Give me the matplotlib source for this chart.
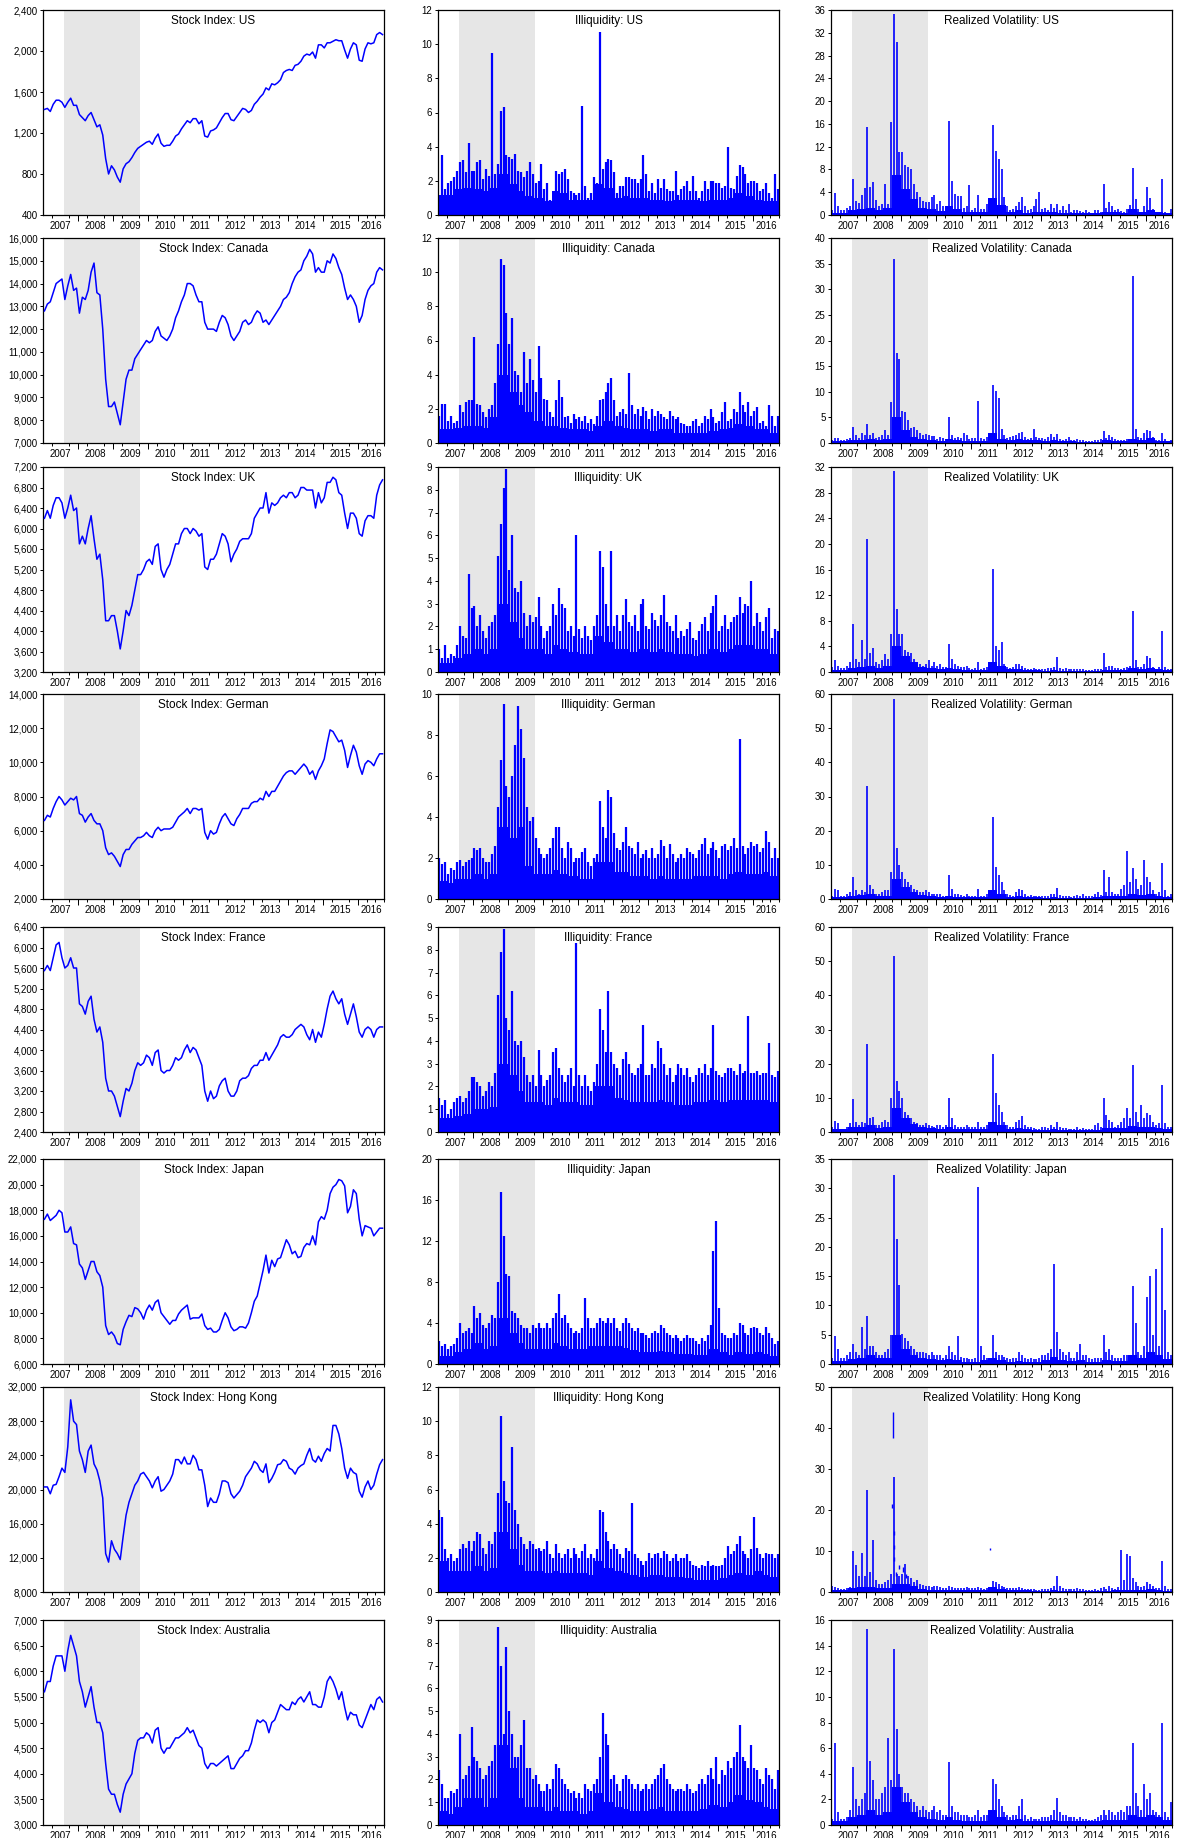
import numpy as np
import matplotlib
matplotlib.use('Agg')
import matplotlib.pyplot as plt
from matplotlib.ticker import FixedLocator, FuncFormatter

plt.rcParams['font.family'] = ['Liberation Sans', 'DejaVu Sans']

# %% data: monthly values Jan 2007 - Sep 2016
year_labels = [str(y) for y in range(2007, 2017)]
shade_start, shade_end = 2007.6, 2009.78

stock_us = [1430, 1440, 1410, 1480, 1520, 1520, 1500, 1450, 1500, 1540, 1470, 1470,
            1380, 1350, 1320, 1370, 1400, 1330, 1260, 1280, 1180, 950, 800, 880,
            840, 770, 720, 850, 900, 920, 960, 1010, 1050, 1070, 1090, 1110,
            1120, 1090, 1150, 1190, 1100, 1070, 1080, 1080, 1120, 1170, 1190, 1240,
            1280, 1320, 1300, 1340, 1340, 1290, 1320, 1170, 1160, 1220, 1230, 1250,
            1300, 1350, 1390, 1390, 1330, 1320, 1360, 1400, 1440, 1430, 1400, 1420,
            1480, 1510, 1550, 1580, 1640, 1620, 1680, 1670, 1690, 1720, 1790, 1810,
            1820, 1810, 1860, 1870, 1900, 1950, 1970, 1960, 1990, 1930, 2060, 2060,
            2030, 2080, 2080, 2095, 2110, 2100, 2100, 2010, 1930, 2020, 2080, 2060,
            1910, 1900, 2020, 2080, 2070, 2080, 2160, 2180, 2160]
stock_ca = [12800, 13100, 13200, 13600, 14000, 14100, 14200, 13300, 13900, 14400, 13700, 13800,
            12700, 13400, 13300, 13700, 14500, 14900, 13600, 13500, 12000, 9800, 8600, 8600,
            8800, 8300, 7800, 8800, 9800, 10200, 10200, 10700, 10900, 11100, 11300, 11500,
            11400, 11500, 11900, 12100, 11700, 11600, 11500, 11700, 12000, 12500, 12800, 13200,
            13500, 14000, 14000, 13900, 13500, 13200, 13200, 12300, 12000, 12000, 12000, 11900,
            12300, 12600, 12500, 12200, 11700, 11500, 11700, 11900, 12300, 12400, 12200, 12300,
            12600, 12800, 12700, 12300, 12400, 12200, 12400, 12600, 12800, 13000, 13300, 13400,
            13600, 14000, 14300, 14500, 14600, 15000, 15200, 15500, 15300, 14500, 14700, 14500,
            14500, 15000, 14900, 15300, 15100, 14700, 14400, 13800, 13300, 13500, 13300, 13000,
            12300, 12600, 13300, 13700, 13900, 14000, 14500, 14700, 14600]
stock_uk = [6200, 6350, 6200, 6450, 6600, 6600, 6500, 6200, 6400, 6650, 6350, 6400,
            5700, 5850, 5700, 6000, 6250, 5800, 5400, 5500, 5000, 4200, 4200, 4300,
            4300, 4000, 3650, 4000, 4400, 4300, 4500, 4800, 5100, 5100, 5200, 5350,
            5400, 5300, 5650, 5700, 5200, 5050, 5200, 5300, 5500, 5700, 5700, 5900,
            6000, 6000, 5900, 6000, 5950, 5850, 5900, 5250, 5200, 5400, 5400, 5500,
            5700, 5900, 5850, 5700, 5350, 5500, 5600, 5750, 5800, 5800, 5800, 5900,
            6200, 6300, 6400, 6400, 6700, 6300, 6500, 6450, 6500, 6600, 6650, 6600,
            6700, 6700, 6600, 6650, 6800, 6800, 6750, 6750, 6750, 6400, 6700, 6500,
            6600, 6900, 6900, 7000, 6950, 6700, 6650, 6300, 6000, 6300, 6300, 6200,
            5900, 5850, 6150, 6250, 6250, 6200, 6650, 6850, 6950]
stock_de = [6600, 6900, 6800, 7300, 7700, 8000, 7800, 7500, 7700, 7900, 7800, 8000,
            7000, 6900, 6500, 6800, 7000, 6600, 6400, 6400, 6000, 5000, 4600, 4700,
            4500, 4200, 3900, 4600, 4900, 4900, 5200, 5400, 5600, 5600, 5700, 5900,
            5700, 5600, 6000, 6200, 6000, 6100, 6100, 6100, 6200, 6500, 6800, 6950,
            7100, 7300, 7000, 7300, 7300, 7200, 7300, 5900, 5500, 6000, 5800, 5900,
            6400, 6800, 7000, 6700, 6400, 6300, 6700, 6950, 7300, 7300, 7300, 7600,
            7700, 7700, 7900, 7800, 8300, 8000, 8300, 8300, 8600, 8900, 9200, 9400,
            9500, 9500, 9300, 9500, 9700, 9900, 9700, 9300, 9500, 9000, 9500, 9800,
            10200, 11100, 11900, 11800, 11500, 11200, 11300, 10700, 9700, 10400, 11000, 10600,
            9800, 9300, 9900, 10100, 10000, 9800, 10200, 10500, 10500]
stock_fr = [5550, 5650, 5550, 5800, 6050, 6100, 5800, 5600, 5650, 5800, 5600, 5600,
            4900, 4850, 4700, 4950, 5050, 4600, 4350, 4450, 4150, 3450, 3200, 3200,
            3100, 2900, 2700, 3000, 3250, 3200, 3350, 3600, 3750, 3700, 3750, 3900,
            3850, 3700, 3950, 4000, 3600, 3550, 3600, 3600, 3700, 3850, 3800, 3850,
            4000, 4100, 3950, 4050, 4000, 3850, 3700, 3200, 3000, 3200, 3050, 3100,
            3300, 3400, 3450, 3200, 3100, 3100, 3200, 3400, 3450, 3450, 3500, 3640,
            3700, 3700, 3800, 3800, 3950, 3800, 3900, 4000, 4100, 4250, 4300, 4250,
            4250, 4300, 4400, 4450, 4500, 4450, 4300, 4200, 4400, 4150, 4350, 4250,
            4500, 4800, 5050, 5150, 5000, 4900, 5000, 4700, 4500, 4700, 4900, 4650,
            4350, 4250, 4400, 4450, 4400, 4250, 4400, 4450, 4450]
stock_jp = [17300, 17700, 17200, 17400, 17600, 18000, 17800, 16300, 16300, 16700, 15400, 15300,
            13800, 13500, 12600, 13300, 14000, 14000, 13200, 12900, 12000, 9000, 8300, 8500,
            8200, 7600, 7500, 8700, 9300, 9800, 9700, 10400, 10300, 10000, 9500, 10200,
            10600, 10200, 10800, 11000, 10000, 9700, 9400, 9100, 9400, 9400, 9900, 10200,
            10400, 10600, 9500, 9600, 9600, 9600, 9900, 9000, 8700, 8800, 8500, 8500,
            8700, 9400, 10000, 9600, 8900, 8600, 8700, 8900, 8900, 8800, 9200, 10000,
            10900, 11300, 12300, 13300, 14500, 13100, 14100, 13600, 14200, 14300, 15000, 15700,
            15300, 14600, 14800, 14300, 14400, 15100, 15400, 15300, 16000, 15300, 17100, 17500,
            17300, 18000, 19300, 19800, 20000, 20400, 20300, 19900, 17800, 18300, 19600, 19300,
            17300, 16000, 16800, 16700, 16600, 16000, 16300, 16600, 16600]
stock_hk = [20300, 20300, 19500, 20500, 20600, 21500, 22500, 22000, 25000, 30500, 28000, 27600,
            24500, 23500, 22000, 24500, 25200, 23000, 22300, 21000, 19000, 12500, 11500, 14000,
            13000, 12500, 11800, 14500, 17000, 18500, 19500, 20500, 21000, 21800, 22000, 21500,
            21000, 20200, 21000, 21500, 19800, 20000, 20500, 21000, 21800, 23500, 23500, 23000,
            23800, 23000, 23000, 24000, 23500, 22300, 22300, 20500, 18000, 19000, 18500, 18500,
            19500, 21000, 21000, 20800, 19500, 19000, 19400, 19800, 20500, 21500, 22000, 22500,
            23300, 23000, 22300, 22000, 23000, 20800, 21300, 22000, 22900, 23000, 23500, 23300,
            22500, 22300, 21800, 22500, 22800, 23000, 24000, 24800, 23500, 23200, 23900, 23300,
            24200, 24800, 24500, 27500, 27500, 26500, 24800, 22500, 21300, 22500, 22000, 21800,
            19800, 19100, 20300, 21000, 20000, 20500, 21800, 22900, 23500]
stock_au = [5600, 5800, 5800, 6100, 6300, 6300, 6300, 6000, 6400, 6700, 6500, 6300,
            5800, 5600, 5300, 5500, 5700, 5300, 5000, 5000, 4800, 4200, 3700, 3600,
            3600, 3400, 3250, 3600, 3800, 3900, 4000, 4400, 4650, 4700, 4700, 4800,
            4750, 4600, 4850, 4900, 4500, 4400, 4500, 4500, 4600, 4700, 4700, 4750,
            4800, 4900, 4800, 4850, 4700, 4550, 4500, 4200, 4100, 4200, 4200, 4150,
            4200, 4250, 4300, 4350, 4100, 4100, 4200, 4300, 4350, 4450, 4450, 4600,
            4850, 5050, 5000, 5050, 5000, 4800, 5000, 5050, 5200, 5350, 5300, 5250,
            5250, 5400, 5350, 5450, 5500, 5400, 5500, 5600, 5350, 5350, 5300, 5300,
            5500, 5800, 5900, 5800, 5650, 5450, 5600, 5300, 5050, 5200, 5150, 5150,
            4950, 4900, 5050, 5200, 5350, 5250, 5450, 5500, 5400]

# illiquidity: monthly highest spike and quarterly level of the dense band
illiq_us_top = [1.0, 3.5, 1.5, 1.9, 2.0, 2.2, 2.6, 3.1, 3.2, 2.5, 4.2, 2.6,
                2.6, 3.1, 3.2, 2.1, 2.7, 2.3, 9.5, 2.4, 3.0, 6.1, 6.3, 3.5,
                3.4, 3.3, 3.6, 2.6, 2.5, 2.2, 2.6, 3.1, 2.4, 1.9, 2.0, 3.0,
                1.5, 1.9, 0.9, 0.8, 2.6, 2.4, 2.5, 2.7, 2.1, 1.4, 1.3, 1.2,
                1.3, 6.4, 1.7, 1.0, 1.3, 2.2, 1.9, 10.7, 2.7, 3.1, 3.3, 3.2,
                2.5, 1.3, 1.7, 1.7, 2.2, 2.2, 2.1, 2.1, 1.9, 2.1, 3.5, 2.4,
                1.4, 1.9, 1.3, 2.1, 1.6, 2.1, 1.5, 1.4, 1.4, 2.6, 1.2, 1.5,
                1.7, 2.0, 1.4, 2.3, 1.4, 1.0, 1.4, 2.0, 1.5, 2.0, 2.0, 1.9,
                1.9, 1.6, 1.7, 4.0, 1.6, 1.5, 2.3, 2.9, 2.8, 2.4, 1.9, 2.0,
                2.0, 1.9, 1.4, 1.5, 1.9, 1.3, 1.0, 2.4, 1.5]
illiq_us_body = [1.2, 1.2, 1.5, 1.6, 1.5, 1.4, 1.6, 2.4, 1.8, 1.4, 1.1, 1.0,
                 0.8, 1.4, 1.3, 0.9, 0.9, 0.9, 1.8, 1.6, 1.0, 1.1, 1.0, 1.0,
                 0.9, 0.9, 0.8, 0.9, 0.9, 0.9, 0.8, 0.9, 0.9, 1.0, 1.3, 1.1,
                 0.9, 0.8, 0.8]
illiq_ca_top = [1.6, 2.3, 2.3, 1.3, 1.6, 1.2, 1.3, 2.2, 1.8, 2.4, 2.5, 2.5,
                6.2, 2.3, 2.2, 1.8, 1.5, 2.0, 2.2, 3.5, 5.8, 10.8, 10.4, 7.6,
                5.8, 7.3, 4.2, 4.0, 3.0, 5.3, 3.5, 4.9, 3.7, 3.0, 5.7, 3.8,
                2.6, 2.5, 1.8, 1.5, 2.5, 3.7, 2.7, 1.5, 1.6, 1.2, 1.7, 1.4,
                1.5, 1.3, 1.6, 1.2, 1.4, 1.1, 1.6, 2.5, 2.6, 3.0, 3.5, 3.8,
                2.5, 1.6, 1.8, 2.0, 1.7, 4.1, 2.2, 1.7, 2.0, 1.6, 2.1, 1.9,
                1.4, 2.0, 1.6, 1.9, 1.7, 1.5, 1.4, 1.9, 1.6, 1.4, 1.5, 1.2,
                1.1, 1.0, 1.0, 1.3, 1.4, 1.0, 1.2, 1.6, 1.4, 2.0, 1.5, 1.2,
                1.3, 1.8, 2.4, 1.3, 1.4, 2.0, 1.8, 3.0, 2.2, 1.8, 2.4, 1.6,
                1.9, 2.1, 1.2, 1.3, 1.0, 2.2, 1.6, 1.0, 1.6]
illiq_ca_body = [0.8, 0.8, 0.9, 1.0, 1.0, 0.9, 1.5, 4.0, 3.0, 2.2, 1.8, 1.3,
                 1.0, 1.0, 0.9, 0.8, 0.8, 0.7, 1.0, 1.3, 1.0, 0.9, 0.8, 0.8,
                 0.7, 0.8, 0.8, 0.6, 0.6, 0.6, 0.6, 0.7, 0.8, 0.9, 1.1, 1.0,
                 0.8, 0.8, 0.6]
illiq_uk_top = [1.0, 0.6, 1.2, 0.6, 0.8, 0.7, 1.2, 2.0, 1.6, 1.5, 4.3, 2.8,
                2.9, 2.0, 2.5, 1.8, 1.5, 2.0, 2.2, 2.5, 5.1, 6.5, 8.1, 8.9,
                4.5, 6.0, 3.7, 3.5, 4.0, 2.6, 2.0, 2.5, 2.2, 2.4, 3.3, 2.0,
                1.5, 1.8, 2.0, 3.0, 2.5, 3.7, 3.0, 2.8, 1.8, 2.0, 1.6, 6.0,
                1.9, 1.5, 2.0, 1.6, 1.4, 2.0, 2.5, 5.3, 4.6, 3.0, 2.0, 5.3,
                2.0, 2.5, 1.8, 2.5, 3.2, 2.2, 2.0, 2.5, 1.8, 3.0, 3.2, 2.0,
                1.9, 2.6, 2.3, 2.0, 2.5, 3.4, 2.2, 2.0, 1.8, 2.5, 1.5, 1.8,
                1.6, 1.9, 2.2, 1.5, 1.4, 1.8, 2.1, 2.4, 1.8, 2.6, 2.9, 3.4,
                1.8, 2.0, 2.5, 1.9, 2.2, 2.4, 2.5, 3.3, 2.6, 3.0, 2.9, 4.0,
                2.0, 2.6, 2.2, 1.8, 2.4, 2.8, 1.5, 1.9, 1.8]
illiq_uk_body = [0.4, 0.4, 0.6, 0.8, 1.0, 0.8, 1.0, 3.0, 2.2, 1.5, 1.0, 1.0,
                 0.8, 1.2, 1.0, 0.9, 0.8, 0.8, 1.6, 1.3, 1.0, 1.0, 0.9, 1.0,
                 0.9, 1.0, 0.9, 0.8, 0.8, 0.7, 0.8, 1.0, 0.9, 1.0, 1.2, 1.2,
                 1.0, 1.0, 0.8]
illiq_de_top = [2.0, 1.7, 1.8, 1.2, 1.5, 1.4, 1.8, 1.9, 1.6, 1.8, 1.9, 2.0,
                2.5, 2.4, 2.5, 2.0, 1.8, 1.8, 2.2, 2.6, 4.5, 6.8, 9.5, 5.5,
                5.0, 6.0, 7.5, 9.4, 8.3, 6.9, 4.5, 3.8, 4.0, 3.0, 2.5, 2.2,
                2.0, 2.2, 2.5, 3.0, 3.5, 3.5, 2.5, 2.0, 2.8, 2.5, 1.8, 2.0,
                2.0, 2.3, 2.5, 1.8, 1.6, 2.0, 2.2, 4.8, 3.5, 3.0, 5.3, 5.0,
                3.2, 2.5, 2.4, 2.8, 3.5, 2.6, 2.5, 2.2, 2.8, 2.0, 2.2, 2.4,
                2.0, 2.5, 2.0, 2.2, 2.9, 2.6, 2.0, 2.7, 2.2, 1.8, 2.0, 2.2,
                2.0, 2.5, 2.3, 2.2, 2.0, 2.4, 2.7, 3.0, 2.2, 2.5, 2.8, 2.4,
                2.0, 2.6, 2.7, 2.4, 2.6, 3.0, 2.5, 7.8, 2.6, 2.2, 2.5, 2.8,
                2.6, 2.7, 2.3, 2.5, 3.3, 2.8, 2.0, 2.5, 2.0]
illiq_de_body = [0.9, 0.8, 1.0, 1.0, 1.2, 1.0, 1.2, 3.5, 3.0, 3.5, 1.6, 1.2,
                 1.2, 1.4, 1.2, 1.1, 1.0, 1.0, 1.8, 1.8, 1.3, 1.3, 1.1, 1.1,
                 1.0, 1.1, 1.0, 1.0, 1.0, 1.1, 1.1, 1.1, 1.0, 1.2, 1.3, 1.2,
                 1.2, 1.3, 1.1]
illiq_fr_top = [1.5, 1.2, 1.4, 0.8, 1.0, 1.3, 1.5, 1.6, 1.3, 1.5, 1.8, 2.4,
                2.4, 2.2, 2.0, 1.6, 1.8, 2.2, 2.0, 2.6, 6.0, 7.9, 8.9, 5.0,
                4.5, 6.2, 4.0, 3.8, 4.0, 3.3, 2.5, 2.2, 2.5, 2.0, 3.6, 2.5,
                2.0, 2.3, 2.5, 3.5, 3.7, 2.8, 2.5, 2.2, 2.5, 2.8, 2.0, 8.3,
                2.5, 2.0, 2.5, 2.0, 1.8, 2.2, 3.0, 5.4, 4.5, 3.5, 6.2, 3.5,
                3.0, 2.8, 2.5, 3.2, 3.5, 3.0, 2.6, 2.5, 2.8, 3.0, 4.7, 2.5,
                2.5, 3.0, 2.8, 4.0, 3.7, 3.0, 2.5, 2.8, 2.2, 2.5, 3.0, 2.8,
                2.5, 2.8, 2.4, 2.2, 2.5, 2.8, 2.6, 3.0, 2.5, 2.8, 4.7, 2.7,
                2.5, 2.4, 2.6, 2.8, 2.8, 2.7, 2.5, 3.0, 2.6, 2.7, 5.1, 2.6,
                2.6, 2.7, 2.5, 2.6, 2.6, 3.9, 2.5, 2.4, 2.7]
illiq_fr_body = [0.6, 0.6, 0.7, 0.8, 1.0, 1.0, 1.1, 3.0, 2.5, 1.8, 1.3, 1.3,
                 1.2, 1.5, 1.3, 1.3, 1.2, 1.2, 2.0, 2.0, 1.5, 1.4, 1.3, 1.3,
                 1.3, 1.4, 1.3, 1.2, 1.2, 1.3, 1.3, 1.4, 1.3, 1.4, 1.4, 1.4,
                 1.4, 1.4, 1.3]
illiq_jp_top = [2.2, 1.8, 2.0, 1.5, 1.8, 2.0, 2.5, 4.0, 3.0, 3.2, 3.5, 3.0,
                5.7, 4.5, 5.0, 3.8, 3.5, 4.0, 4.8, 4.5, 8.0, 16.8, 12.5, 8.8,
                8.6, 5.2, 5.0, 4.5, 3.8, 3.5, 3.5, 3.0, 3.8, 3.5, 4.0, 3.5,
                3.5, 4.0, 3.5, 4.5, 5.0, 6.8, 4.5, 4.8, 4.0, 3.5, 3.0, 3.2,
                3.0, 3.5, 6.4, 4.5, 3.5, 3.5, 4.0, 4.5, 4.2, 4.0, 4.5, 4.0,
                4.5, 3.5, 3.2, 4.0, 4.5, 4.0, 3.5, 3.2, 3.5, 3.0, 3.0, 2.8,
                2.5, 3.0, 3.2, 3.0, 3.8, 3.5, 3.0, 2.8, 2.5, 2.8, 2.5, 2.2,
                2.5, 2.8, 2.5, 2.5, 2.2, 2.0, 2.5, 2.2, 2.8, 3.8, 11.0, 14.0,
                5.5, 3.0, 2.8, 2.5, 2.5, 3.0, 2.8, 4.0, 3.8, 3.0, 2.8, 3.5,
                3.6, 3.5, 3.0, 2.8, 3.6, 3.0, 2.5, 2.0, 2.2]
illiq_jp_body = [0.8, 0.8, 1.2, 1.5, 2.0, 1.5, 1.8, 4.5, 3.0, 2.0, 1.5, 1.5,
                 1.5, 2.0, 1.8, 1.5, 1.5, 1.8, 1.8, 1.8, 1.8, 1.6, 1.4, 1.2,
                 1.2, 1.3, 1.2, 1.0, 1.0, 0.9, 0.9, 1.5, 1.2, 0.9, 1.2, 1.0,
                 1.2, 1.0, 0.8]
illiq_hk_top = [4.8, 4.4, 2.5, 2.0, 2.2, 1.8, 2.0, 2.5, 2.8, 2.6, 3.0, 2.4,
                3.0, 3.5, 3.4, 2.6, 2.2, 3.0, 2.8, 3.5, 5.8, 10.3, 6.5, 5.3,
                5.2, 8.5, 4.8, 4.0, 3.2, 2.8, 2.5, 3.0, 2.8, 2.5, 2.6, 2.4,
                2.5, 3.0, 2.2, 2.0, 2.8, 2.3, 2.0, 2.2, 2.5, 2.0, 2.6, 2.2,
                2.0, 2.4, 2.8, 2.0, 2.2, 2.0, 2.5, 4.8, 4.7, 3.5, 3.0, 2.5,
                2.8, 2.5, 2.2, 2.0, 2.6, 2.4, 5.2, 2.2, 2.0, 1.8, 1.6, 1.8,
                2.3, 2.0, 2.2, 2.3, 2.0, 2.4, 2.2, 1.8, 2.0, 2.2, 1.8, 2.0,
                2.0, 2.2, 1.8, 1.6, 1.5, 1.4, 1.6, 1.5, 1.8, 1.5, 1.6, 1.5,
                1.5, 1.6, 2.0, 2.7, 2.2, 2.4, 2.8, 3.3, 2.4, 2.2, 2.0, 2.5,
                4.4, 2.6, 2.2, 2.0, 2.3, 2.2, 2.2, 2.0, 2.2]
illiq_hk_body = [1.8, 1.2, 1.2, 1.2, 1.5, 1.2, 1.4, 3.5, 2.5, 1.6, 1.2, 1.2,
                 1.1, 1.2, 1.1, 1.1, 1.1, 1.0, 1.8, 1.4, 1.2, 1.1, 1.0, 0.9,
                 1.0, 1.0, 0.9, 0.9, 0.8, 0.7, 0.7, 0.7, 0.8, 1.0, 1.1, 1.0,
                 1.2, 1.0, 0.9]
illiq_au_top = [2.4, 1.8, 1.2, 1.2, 1.5, 1.4, 1.6, 4.0, 2.0, 2.2, 2.6, 4.3,
                3.0, 2.8, 2.5, 2.0, 2.2, 2.6, 2.8, 3.5, 8.7, 7.0, 4.0, 7.8,
                5.0, 4.0, 3.0, 3.0, 3.5, 4.6, 2.5, 2.5, 2.0, 2.2, 1.8, 1.5,
                1.5, 1.8, 1.6, 2.0, 2.7, 2.5, 2.0, 1.8, 1.6, 1.4, 1.5, 1.2,
                1.4, 1.2, 1.8, 1.6, 1.5, 1.8, 2.0, 3.0, 4.9, 4.0, 3.5, 2.0,
                2.2, 1.8, 1.5, 2.0, 2.2, 2.0, 1.8, 1.6, 1.8, 1.5, 1.6, 1.8,
                1.6, 1.8, 2.0, 2.2, 2.5, 2.7, 2.0, 1.8, 1.6, 1.5, 1.6, 1.6,
                1.5, 1.8, 1.6, 1.4, 1.5, 1.8, 2.0, 1.8, 2.2, 2.5, 2.0, 3.0,
                1.8, 2.4, 2.2, 2.8, 2.5, 3.0, 3.2, 4.4, 3.0, 2.8, 2.5, 3.5,
                2.5, 2.4, 2.0, 1.8, 2.5, 2.2, 2.0, 1.6, 2.4]
illiq_au_body = [0.6, 0.5, 0.8, 1.2, 1.2, 0.8, 1.2, 3.5, 2.5, 1.2, 0.8, 0.8,
                 0.6, 0.8, 0.6, 0.6, 0.5, 0.6, 1.4, 1.0, 0.8, 0.7, 0.6, 0.6,
                 0.7, 0.8, 0.6, 0.6, 0.6, 0.6, 0.7, 0.9, 0.8, 1.0, 1.3, 1.1,
                 1.0, 0.8, 0.7]

# realized volatility: monthly highest spike and quarterly level of the dense band
vol_us_top = [0.9, 3.8, 1.5, 0.8, 0.9, 1.2, 1.5, 6.3, 2.5, 2.1, 3.5, 4.7,
              15.4, 5.0, 5.8, 2.7, 1.5, 2.0, 5.4, 2.0, 16.3, 35.3, 30.4, 11.0,
              11.0, 8.7, 8.5, 8.0, 5.5, 4.0, 3.2, 2.5, 2.2, 2.3, 3.1, 3.6,
              2.0, 2.5, 1.5, 1.2, 16.5, 6.0, 3.7, 3.3, 3.4, 1.2, 1.5, 5.3,
              0.8, 1.2, 3.6, 1.0, 1.0, 2.0, 1.5, 15.8, 11.2, 9.8, 8.0, 3.2,
              1.5, 0.8, 1.0, 1.6, 2.2, 3.1, 1.5, 0.8, 1.0, 1.5, 2.8, 4.0,
              1.0, 1.2, 0.8, 1.9, 1.2, 2.0, 0.9, 1.5, 0.8, 2.0, 0.6, 0.8,
              0.8, 0.7, 0.6, 0.9, 0.5, 0.4, 0.8, 0.8, 0.5, 5.4, 1.2, 2.2,
              1.5, 0.8, 1.0, 0.7, 0.5, 1.0, 1.8, 8.2, 2.8, 1.0, 0.6, 1.5,
              5.0, 3.0, 1.0, 0.5, 0.6, 6.3, 0.6, 0.4, 1.0]
vol_us_body = [0.4, 0.4, 0.8, 1.0, 1.2, 0.8, 1.2, 7.0, 4.5, 2.8, 1.3, 1.0,
               0.7, 1.5, 1.0, 0.5, 0.5, 0.6, 3.0, 1.8, 0.6, 0.8, 0.4, 0.6,
               0.5, 0.5, 0.4, 0.4, 0.3, 0.3, 0.3, 0.5, 0.5, 0.4, 1.0, 0.6,
               0.8, 0.5, 0.3]
vol_ca_top = [0.6, 0.9, 1.0, 0.5, 0.6, 0.8, 1.0, 3.2, 1.5, 1.0, 2.0, 1.5,
              3.8, 1.5, 2.0, 1.0, 1.2, 1.5, 2.5, 1.5, 8.0, 36.0, 17.5, 16.4,
              6.2, 6.0, 4.5, 3.0, 3.2, 2.5, 2.0, 1.5, 1.8, 1.5, 1.3, 1.4,
              0.8, 1.2, 0.9, 0.8, 5.0, 1.5, 1.0, 1.2, 1.0, 2.0, 1.5, 0.8,
              0.9, 1.0, 8.1, 1.0, 0.8, 1.2, 1.5, 11.3, 10.2, 8.8, 2.8, 1.5,
              1.0, 1.2, 1.3, 1.5, 2.0, 2.2, 1.2, 0.8, 1.0, 2.7, 1.2, 1.0,
              1.0, 0.7, 1.2, 1.8, 1.2, 1.7, 0.8, 0.6, 0.8, 1.2, 0.5, 0.5,
              0.7, 0.5, 0.5, 0.4, 0.4, 0.3, 0.5, 0.5, 0.8, 2.3, 1.0, 1.5,
              1.2, 0.8, 0.6, 0.5, 0.6, 0.8, 0.8, 32.5, 2.7, 1.2, 1.0, 2.0,
              2.5, 2.3, 1.2, 0.6, 0.6, 1.9, 0.8, 0.4, 0.6]
vol_ca_body = [0.3, 0.3, 0.5, 0.6, 0.8, 0.6, 0.8, 5.0, 2.5, 1.2, 0.8, 0.6,
               0.4, 0.7, 0.5, 0.4, 0.4, 0.4, 2.0, 0.8, 0.5, 0.7, 0.5, 0.5,
               0.4, 0.5, 0.3, 0.3, 0.2, 0.2, 0.2, 0.5, 0.4, 0.3, 0.8, 0.6,
               1.0, 0.4, 0.3]
vol_uk_top = [0.8, 1.8, 1.0, 0.6, 0.6, 1.0, 1.5, 7.5, 2.0, 1.5, 5.0, 2.0,
              20.8, 3.0, 3.8, 1.5, 1.2, 1.8, 2.8, 2.0, 6.0, 31.3, 9.8, 6.0,
              6.0, 3.5, 3.2, 3.0, 2.0, 1.5, 1.2, 1.0, 1.2, 1.8, 1.0, 1.5,
              1.0, 1.2, 0.8, 0.8, 4.4, 2.0, 1.2, 1.0, 0.8, 0.8, 1.0, 0.6,
              0.5, 0.6, 1.6, 0.5, 0.6, 0.8, 1.2, 16.1, 4.0, 3.5, 4.7, 1.2,
              0.8, 0.7, 0.8, 1.2, 1.3, 1.0, 0.7, 0.5, 0.5, 0.6, 0.5, 0.4,
              0.5, 0.5, 0.6, 0.7, 0.8, 2.4, 0.6, 0.5, 0.6, 0.5, 0.4, 0.4,
              0.4, 0.5, 0.4, 0.3, 0.3, 0.3, 0.4, 0.4, 0.5, 3.0, 0.8, 1.0,
              1.0, 0.6, 0.6, 0.5, 0.6, 0.8, 1.0, 9.5, 1.8, 0.8, 0.8, 1.2,
              2.5, 2.2, 0.8, 0.5, 0.8, 6.4, 0.8, 0.4, 0.5]
vol_uk_body = [0.3, 0.3, 0.6, 0.8, 1.0, 0.7, 1.0, 4.0, 2.5, 1.5, 0.8, 0.6,
               0.4, 0.6, 0.5, 0.3, 0.3, 0.3, 1.5, 1.0, 0.4, 0.4, 0.3, 0.3,
               0.2, 0.3, 0.2, 0.2, 0.2, 0.2, 0.2, 0.3, 0.3, 0.3, 0.6, 0.4,
               0.7, 0.4, 0.3]
vol_de_top = [1.0, 3.0, 2.5, 1.0, 1.0, 1.5, 2.0, 6.5, 2.5, 1.5, 2.5, 2.0,
              33.0, 4.0, 3.0, 1.5, 1.5, 2.0, 2.5, 2.5, 8.0, 58.5, 15.0, 10.0,
              8.0, 6.0, 5.0, 4.0, 3.0, 2.5, 2.0, 2.0, 2.5, 2.0, 1.5, 1.5,
              1.5, 1.5, 1.0, 1.0, 7.0, 3.0, 1.5, 1.5, 1.2, 1.0, 1.5, 1.0,
              1.0, 1.0, 3.0, 1.0, 1.0, 1.5, 2.0, 24.0, 9.5, 7.0, 5.0, 2.5,
              1.5, 1.2, 1.0, 2.0, 3.0, 2.5, 1.5, 1.0, 1.2, 1.0, 1.0, 0.8,
              1.0, 1.0, 1.0, 1.5, 1.5, 3.3, 1.2, 1.0, 1.0, 0.8, 0.7, 1.0,
              1.2, 1.0, 1.5, 1.0, 0.8, 0.8, 1.5, 2.0, 1.2, 8.5, 2.0, 6.5,
              2.0, 1.5, 1.5, 3.0, 4.0, 14.0, 5.0, 9.0, 6.0, 3.0, 4.0, 11.5,
              6.5, 5.0, 2.5, 1.5, 2.0, 10.5, 2.5, 1.0, 1.5]
vol_de_body = [0.5, 0.5, 1.0, 1.2, 1.5, 0.8, 1.0, 6.0, 3.5, 2.0, 1.2, 0.8,
               0.6, 1.0, 0.7, 0.5, 0.5, 0.5, 2.5, 1.5, 0.7, 0.8, 0.5, 0.5,
               0.4, 0.5, 0.4, 0.4, 0.4, 0.4, 0.5, 1.0, 0.8, 1.0, 1.5, 1.2,
               1.5, 1.0, 0.6]
vol_fr_top = [1.5, 3.3, 2.5, 1.0, 1.0, 1.5, 2.5, 9.6, 3.0, 2.0, 3.0, 2.5,
              25.7, 4.0, 4.5, 2.0, 2.0, 3.0, 3.5, 3.0, 10.0, 51.5, 15.0, 12.0,
              10.0, 6.0, 5.0, 4.0, 3.0, 2.5, 2.0, 2.0, 2.5, 2.0, 1.8, 1.5,
              2.0, 2.0, 1.5, 2.0, 10.0, 4.0, 2.0, 1.5, 1.5, 1.5, 2.0, 1.5,
              1.5, 1.5, 3.0, 1.5, 1.5, 2.0, 3.0, 22.8, 11.5, 8.0, 6.0, 3.0,
              2.0, 1.5, 1.5, 3.0, 3.5, 4.8, 2.0, 1.5, 1.5, 1.2, 1.0, 1.0,
              1.5, 1.5, 1.2, 2.0, 1.5, 3.0, 1.5, 1.2, 1.2, 1.0, 1.0, 1.0,
              1.5, 1.0, 1.2, 1.0, 0.8, 1.0, 2.0, 2.5, 1.5, 10.0, 5.0, 3.5,
              3.0, 1.5, 2.0, 3.0, 4.0, 7.0, 4.0, 19.5, 6.0, 3.0, 8.0, 4.0,
              5.5, 5.0, 3.0, 2.0, 2.5, 13.7, 2.5, 1.5, 1.5]
vol_fr_body = [0.8, 0.8, 1.5, 1.5, 2.0, 1.2, 1.5, 7.0, 4.0, 2.2, 1.5, 1.2,
               1.0, 1.5, 1.0, 0.8, 0.8, 0.8, 3.0, 2.0, 1.0, 1.2, 0.8, 0.7,
               0.7, 0.8, 0.6, 0.6, 0.6, 0.6, 0.7, 1.2, 1.2, 1.2, 1.8, 1.5,
               1.5, 1.2, 0.8]
vol_jp_top = [1.0, 4.7, 2.5, 1.0, 1.0, 1.5, 2.0, 3.5, 2.0, 1.5, 6.3, 2.5,
              8.2, 3.0, 3.0, 2.0, 1.5, 1.5, 2.0, 2.5, 5.0, 32.3, 21.3, 13.5,
              5.2, 4.5, 4.0, 3.0, 2.5, 2.0, 2.0, 2.0, 1.8, 1.5, 2.0, 1.5,
              1.5, 1.5, 1.0, 1.5, 3.0, 2.0, 1.5, 4.8, 1.2, 1.0, 1.0, 0.8,
              0.8, 1.0, 30.3, 3.0, 1.5, 1.0, 1.0, 5.0, 2.0, 1.5, 1.5, 1.2,
              1.0, 0.8, 1.0, 1.0, 2.0, 1.5, 1.0, 0.8, 1.0, 0.8, 0.8, 1.0,
              1.5, 1.5, 1.8, 2.5, 17.0, 5.5, 2.5, 2.0, 1.5, 2.0, 1.0, 1.0,
              2.0, 3.5, 1.5, 1.5, 1.0, 0.8, 1.0, 1.0, 1.0, 5.0, 2.0, 2.5,
              1.5, 1.0, 1.0, 1.0, 1.5, 1.5, 1.5, 13.3, 7.0, 2.0, 1.5, 3.0,
              11.5, 15.0, 5.0, 16.2, 3.0, 23.2, 9.2, 2.0, 1.5]
vol_jp_body = [0.5, 0.5, 0.8, 1.0, 1.5, 1.0, 1.0, 5.0, 2.5, 1.5, 1.0, 0.8,
               0.6, 0.8, 0.6, 0.4, 0.4, 0.6, 1.0, 0.6, 0.4, 0.5, 0.4, 0.4,
               0.6, 1.2, 0.7, 0.5, 0.6, 0.4, 0.4, 0.7, 0.5, 0.5, 1.5, 1.0,
               2.0, 1.5, 0.8]
vol_hk_top = [1.5, 1.2, 1.0, 0.8, 0.8, 1.0, 1.2, 10.0, 6.5, 4.0, 9.5, 4.0,
              25.0, 5.0, 12.8, 3.0, 2.0, 2.0, 2.5, 3.0, 4.5, 28.0, 4.5, 4.0,
              4.5, 6.8, 4.0, 3.5, 2.5, 3.0, 2.0, 1.8, 1.5, 1.5, 1.2, 1.5,
              1.5, 1.2, 1.0, 1.0, 1.5, 1.2, 1.0, 1.0, 1.0, 1.0, 1.2, 1.0,
              1.0, 1.0, 1.2, 1.0, 0.8, 1.0, 1.2, 2.8, 2.5, 2.0, 1.5, 1.2,
              1.0, 1.0, 1.0, 1.0, 1.2, 1.0, 0.8, 0.8, 0.8, 0.8, 0.6, 0.6,
              0.8, 0.8, 0.8, 1.0, 1.5, 3.8, 1.5, 1.0, 0.8, 0.8, 0.8, 0.8,
              1.0, 0.8, 0.8, 0.6, 0.6, 0.6, 0.8, 0.6, 1.0, 1.2, 0.8, 1.5,
              1.0, 0.8, 1.2, 10.2, 3.0, 9.2, 8.8, 3.5, 2.5, 1.5, 1.2, 1.5,
              2.5, 2.0, 1.5, 1.0, 1.0, 7.5, 1.5, 0.8, 0.8]
vol_hk_body = [0.4, 0.4, 1.0, 1.2, 1.2, 1.0, 1.0, 2.0, 2.0, 1.5, 0.8, 0.6,
               0.5, 0.6, 0.5, 0.4, 0.4, 0.4, 1.2, 0.8, 0.5, 0.4, 0.4, 0.3,
               0.3, 0.5, 0.3, 0.3, 0.3, 0.3, 0.3, 0.3, 0.4, 0.6, 0.6, 0.4,
               0.8, 0.5, 0.3]
# broken pieces of the Hong Kong volatility line (date, low, high)
hk_piece_date = [2008.78, 2008.75, 2008.79, 2008.80, 2008.81, 2008.86, 2008.95, 2009.05, 2009.15, 2011.55]
hk_piece_lo = [37.5, 20.5, 14.0, 10.5, 7.5, 4.0, 5.5, 5.0, 3.5, 10.3]
hk_piece_hi = [43.8, 21.5, 15.0, 11.5, 8.5, 5.0, 6.5, 6.0, 4.5, 10.8]
vol_au_top = [0.5, 6.4, 1.0, 0.5, 0.5, 0.6, 1.2, 4.5, 2.0, 1.5, 2.0, 2.5,
              15.3, 5.0, 3.5, 2.0, 2.0, 2.5, 3.0, 6.8, 3.5, 13.7, 7.5, 4.0,
              3.0, 2.5, 2.5, 2.0, 1.8, 1.5, 1.2, 1.5, 1.2, 1.0, 1.2, 1.5,
              1.0, 1.2, 0.8, 0.8, 4.9, 1.5, 1.0, 1.0, 0.8, 0.8, 0.8, 0.6,
              0.6, 0.8, 1.2, 0.6, 0.8, 0.8, 1.2, 3.6, 3.2, 2.0, 1.5, 1.0,
              0.8, 0.6, 0.8, 0.8, 1.5, 2.0, 0.8, 0.5, 0.6, 0.5, 0.5, 0.5,
              0.6, 0.6, 0.6, 0.8, 1.2, 2.1, 1.0, 0.8, 0.8, 0.6, 0.6, 0.6,
              0.5, 0.6, 0.5, 0.5, 0.4, 0.4, 0.5, 0.6, 0.8, 1.2, 0.8, 1.2,
              1.0, 0.8, 1.0, 1.2, 1.0, 1.5, 1.5, 6.4, 2.5, 1.5, 1.2, 3.2,
              2.0, 2.5, 1.2, 1.0, 0.8, 8.0, 1.0, 0.6, 1.8]
vol_au_body = [0.3, 0.3, 0.6, 0.8, 1.2, 0.8, 1.0, 3.0, 1.8, 1.0, 0.6, 0.5,
               0.4, 0.6, 0.4, 0.3, 0.3, 0.3, 1.2, 0.6, 0.4, 0.5, 0.3, 0.3,
               0.3, 0.4, 0.3, 0.3, 0.3, 0.3, 0.3, 0.4, 0.4, 0.4, 0.8, 0.6,
               0.8, 0.6, 0.4]

# name, stock, stock ticks, illiq top, illiq body, illiq ticks, vol top, vol body, vol ticks
rows = [
    ('US', stock_us, (400, 2400, 400), illiq_us_top, illiq_us_body, (0, 12, 2), vol_us_top, vol_us_body, (0, 36, 4)),
    ('Canada', stock_ca, (7000, 16000, 1000), illiq_ca_top, illiq_ca_body, (0, 12, 2), vol_ca_top, vol_ca_body, (0, 40, 5)),
    ('UK', stock_uk, (3200, 7200, 400), illiq_uk_top, illiq_uk_body, (0, 9, 1), vol_uk_top, vol_uk_body, (0, 32, 4)),
    ('German', stock_de, (2000, 14000, 2000), illiq_de_top, illiq_de_body, (0, 10, 2), vol_de_top, vol_de_body, (0, 60, 10)),
    ('France', stock_fr, (2400, 6400, 400), illiq_fr_top, illiq_fr_body, (0, 9, 1), vol_fr_top, vol_fr_body, (0, 60, 10)),
    ('Japan', stock_jp, (6000, 22000, 2000), illiq_jp_top, illiq_jp_body, (0, 20, 4), vol_jp_top, vol_jp_body, (0, 35, 5)),
    ('Hong Kong', stock_hk, (8000, 32000, 4000), illiq_hk_top, illiq_hk_body, (0, 12, 2), vol_hk_top, vol_hk_body, (0, 50, 10)),
    ('Australia', stock_au, (3000, 7000, 500), illiq_au_top, illiq_au_body, (0, 9, 1), vol_au_top, vol_au_body, (0, 16, 2)),
]

# %% layout (pixels of the 1181x1838 picture)
W, H = 1181, 1838
col_left = [43, 438, 831]
row_top = [10, 238, 467, 694, 927, 1159, 1387, 1620]
ax_w, ax_h = 341, 205

n_months = len(stock_us)
months = 2007 + (np.arange(n_months) + 0.5) / 12
month_edges = 2007 + np.arange(n_months + 1) / 12
x_end = 2007 + n_months / 12
year_bounds = np.arange(2008, 2017)
year_mid = [(y + min(y + 1, x_end)) / 2 for y in range(2007, 2017)]
quarter_bounds = [2007 + q / 4 for q in range(1, int((x_end - 2007) * 4) + 1)]

BLUE = '#0000ff'
SHADE = '#e6e6e6'


def style_axes(ax, ticks, thousands):
    lo, hi, step = ticks
    ax.axvspan(shade_start, shade_end, color=SHADE, lw=0, zorder=0)
    ax.set_xlim(2007, x_end)
    ax.set_ylim(lo, hi)
    ax.set_yticks(np.arange(lo, hi + step / 2, step))
    if thousands:
        ax.yaxis.set_major_formatter(FuncFormatter(lambda v, p: f'{v:,.0f}'))
    else:
        ax.yaxis.set_major_formatter(FuncFormatter(lambda v, p: f'{v:.0f}'))
    ax.tick_params(axis='y', direction='out', length=2.5, width=0.7, pad=1.5, labelsize=7)
    ax.set_xticks(year_mid, labels=year_labels)
    ax.tick_params(axis='x', which='major', length=0, pad=4, labelsize=7)
    ax.xaxis.set_minor_locator(FixedLocator(quarter_bounds))
    ax.tick_params(axis='x', which='minor', direction='out', length=2.2, width=0.7)
    sec = ax.secondary_xaxis('bottom')
    sec.set_xticks(year_bounds)
    sec.tick_params(length=4.5, width=0.7, labelbottom=False)
    sec.spines['bottom'].set_visible(False)
    for s in ax.spines.values():
        s.set_linewidth(0.9)
        s.set_color('black')


def spikes(ax, top, body, lw):
    band = np.repeat(body, 3)[:n_months]
    ax.fill_between(month_edges, 0, np.append(band, band[-1]), step='post',
                    color=BLUE, lw=0, zorder=2)
    ax.vlines(months, 0, top, color=BLUE, lw=lw, zorder=2)


def title(ax, text):
    ax.text(0.5, 0.975, text, transform=ax.transAxes, ha='center', va='top',
            fontsize=8.5, zorder=5)


fig = plt.figure(figsize=(W / 100, H / 100), dpi=100)

for r, (name, stock, st_t, il_top, il_body, il_t, vo_top, vo_body, vo_t) in enumerate(rows):
    axes = []
    for c in range(3):
        rect = [col_left[c] / W, 1 - (row_top[r] + ax_h) / H, ax_w / W, ax_h / H]
        axes.append(fig.add_axes(rect))
    a1, a2, a3 = axes

    style_axes(a1, st_t, True)
    a1.plot(months, stock, color=BLUE, lw=1.1, zorder=3)
    title(a1, 'Stock Index: ' + name)

    style_axes(a2, il_t, False)
    spikes(a2, il_top, il_body, 1.6)
    title(a2, 'Illiquidity: ' + name)

    style_axes(a3, vo_t, False)
    spikes(a3, vo_top, vo_body, 1.2)
    if name == 'Hong Kong':
        a3.vlines(hk_piece_date, hk_piece_lo, hk_piece_hi, color=BLUE, lw=1.0, zorder=2)
    title(a3, 'Realized Volatility: ' + name)

fig.savefig('out.png', dpi=100)
